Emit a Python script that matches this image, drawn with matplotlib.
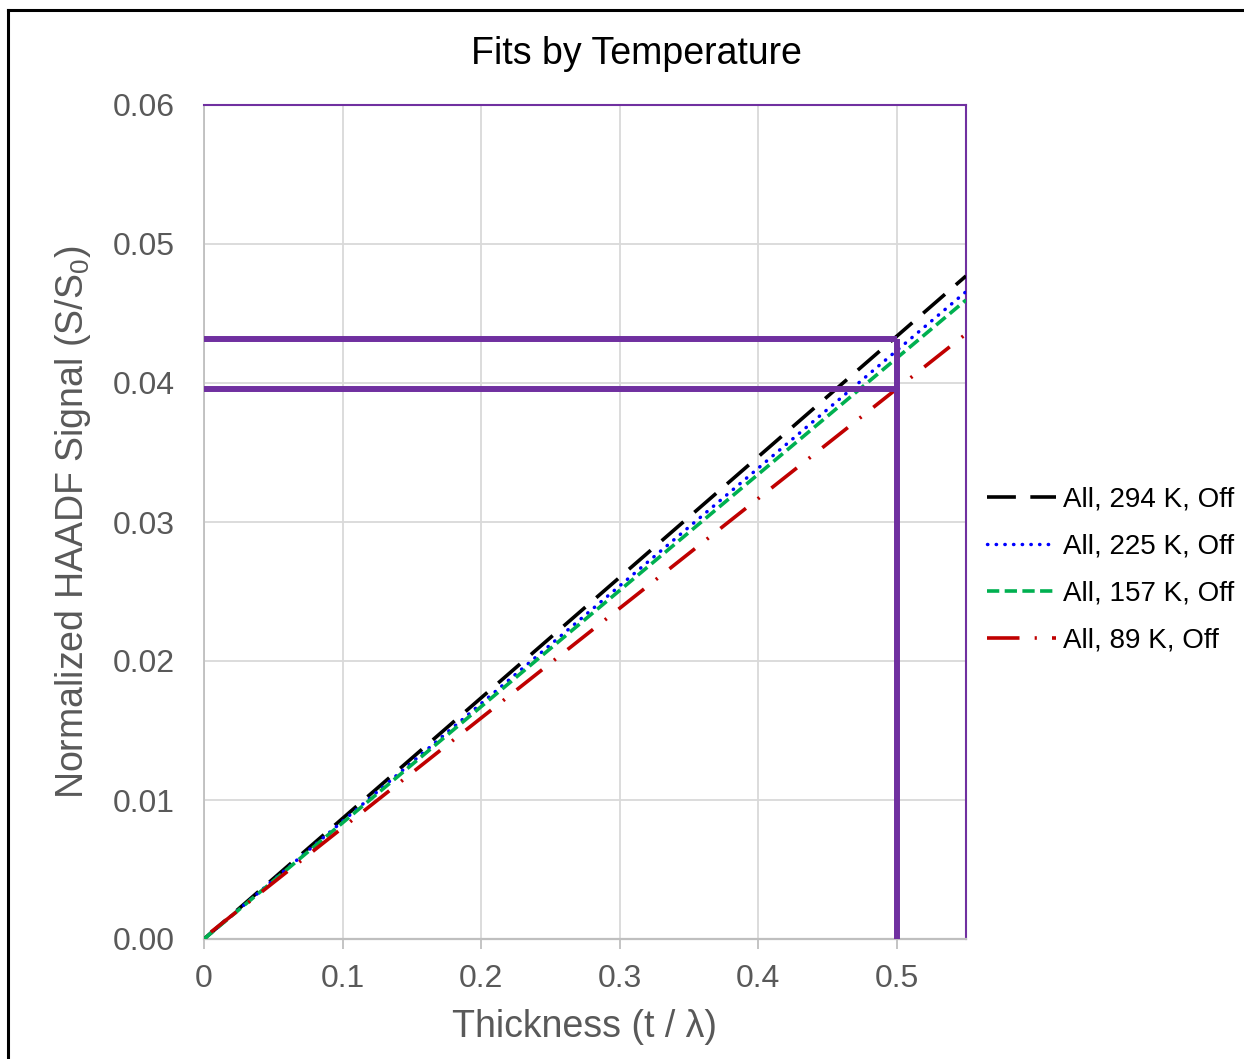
import matplotlib.pyplot as plt
from matplotlib.lines import Line2D

plt.rcParams['font.family'] = ['Liberation Sans', 'DejaVu Sans']

# fit lines at the ends of the x range
thickness = [0.0, 0.55]
sig_294 = [0.0, 0.0477]
sig_225 = [0.0, 0.04657]
sig_157 = [0.0, 0.04597]
sig_89 = [0.0005, 0.04353]
x_89 = [0.005, 0.55]

# purple guide lines
guide_x = 0.5
guide_hi = 0.0432
guide_lo = 0.03955

labels = ['All, 294 K, Off', 'All, 225 K, Off', 'All, 157 K, Off', 'All, 89 K, Off']
xticks = [0, 0.1, 0.2, 0.3, 0.4, 0.5]
xtick_labels = ['0', '0.1', '0.2', '0.3', '0.4', '0.5']
yticks = [0, 0.01, 0.02, 0.03, 0.04, 0.05, 0.06]

purple = '#7030a0'
grey_txt = '#595959'
grid_c = '#d9d9d9'

fig = plt.figure(figsize=(12.44, 10.59), dpi=100)
ax = fig.add_axes([204/1244, 1-939/1059, (966-204)/1244, (939-105)/1059])

ax.plot(thickness, sig_294, color='black', lw=2.6, dashes=(8, 4), label=labels[0], zorder=4)
ax.plot(thickness, sig_225, color='#0000ff', lw=2.5, dashes=(0.1, 2.4), dash_capstyle='round',
        label=labels[1], zorder=4)
ax.plot(thickness, sig_157, color='#00b050', lw=2.6, dashes=(3.4, 1.5), label=labels[2], zorder=4)
ax.plot(x_89, sig_89, color='#c00000', lw=2.6, dashes=(9, 4.2, 0.6, 4.2), label=labels[3], zorder=4)

# guide lines
ax.plot([0, guide_x], [guide_hi, guide_hi], color=purple, lw=4.3, solid_capstyle='butt', zorder=5)
ax.plot([0, guide_x], [guide_lo, guide_lo], color=purple, lw=4.3, solid_capstyle='butt', zorder=5)
ax.plot([guide_x, guide_x], [0, guide_hi], color=purple, lw=4.3, solid_capstyle='butt', zorder=5)

ax.set_xlim(0, 0.55)
ax.set_ylim(0, 0.06)
ax.set_xticks(xticks)
ax.set_xticklabels(xtick_labels)
ax.set_yticks(yticks)
ax.set_yticklabels([f'{v:.2f}' for v in yticks])
ax.grid(True, color=grid_c, lw=1.3)
ax.set_axisbelow(True)

ax.tick_params(axis='x', colors='#bfbfbf', labelcolor=grey_txt, labelsize=23,
               length=7, width=1.3, direction='out', pad=11)
ax.tick_params(axis='y', length=0, labelcolor=grey_txt, labelsize=23, pad=21)

ax.spines['left'].set_color('#bfbfbf')
ax.spines['bottom'].set_color('#bfbfbf')
ax.spines['left'].set_linewidth(1.3)
ax.spines['bottom'].set_linewidth(1.6)
ax.spines['top'].set_color(purple)
ax.spines['right'].set_color(purple)
ax.spines['top'].set_linewidth(1.5)
ax.spines['right'].set_linewidth(1.5)

ax.set_xlabel('Thickness (t / λ)', fontsize=27, color=grey_txt, labelpad=11)
ax.set_ylabel('Normalized HAADF Signal (S/S$_\\mathregular{0}$)', fontsize=27, color=grey_txt, labelpad=14)
fig.text(636/1244, 1-54/1059, 'Fits by Temperature', fontsize=27, color='black',
         ha='center', va='center')

leg = ax.legend(loc='center left', bbox_to_anchor=(987/1244, 1-570/1059),
                bbox_transform=fig.transFigure, frameon=False, fontsize=20,
                handlelength=2.5, handletextpad=0.25, labelspacing=0.76,
                borderpad=0, borderaxespad=0)
for t in leg.get_texts():
    t.set_color('black')

# outer chart border (top and left only visible)
fig.add_artist(Line2D([8/1244, 1], [1-10/1059, 1-10/1059], transform=fig.transFigure,
                      color='black', lw=2.2))
fig.add_artist(Line2D([8/1244, 8/1244], [0, 1-10/1059], transform=fig.transFigure,
                      color='black', lw=2.2))

fig.savefig('out.png', dpi=100)
